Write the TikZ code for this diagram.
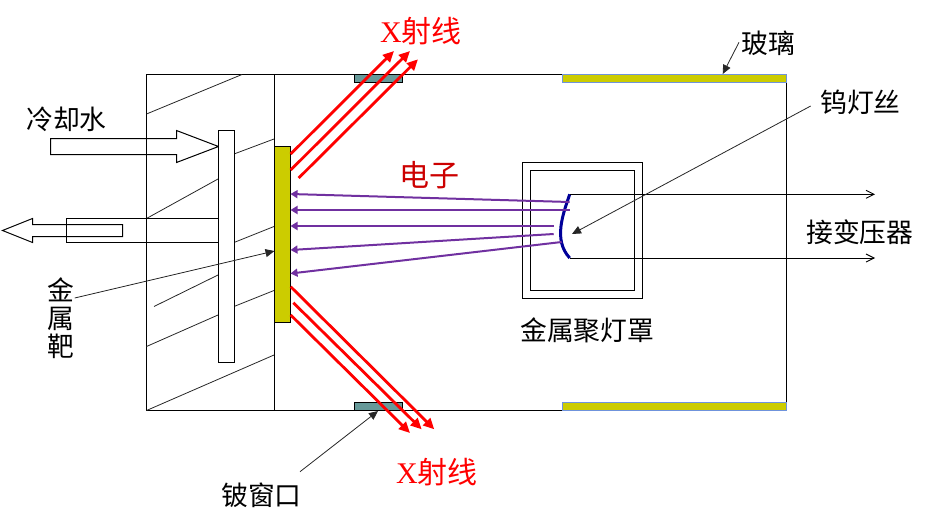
\documentclass[tikz,border=0pt]{standalone}
\usepackage{xcolor}
\usepackage{fontspec}
\setmainfont{Liberation Serif}
\newfontfamily\cjk{Noto Sans CJK SC}
\usetikzlibrary{arrows.meta, calc}
\definecolor{targetyellow}{HTML}{CCCC00}
\definecolor{windowteal}{HTML}{669999}
\definecolor{glassedge}{HTML}{6F93DC}
\definecolor{electronpurple}{HTML}{7030A0}
\definecolor{filamentblue}{HTML}{000099}
\definecolor{labelred}{HTML}{CC0000}
\tikzset{
  part/.style={draw=black, line width=1pt, inner sep=0pt, outer sep=0pt, anchor=north west},
  hatch/.style={draw=black!85, line width=0.8pt},
  wall/.style={draw=black, line width=1pt},
  pointer/.style={draw=black!85, line width=0.8pt, -{Triangle[length=9pt, width=8pt]}},
  xray/.style={draw=red, line width=2.8pt, -{Triangle[length=11pt, width=10pt]}},
  electron/.style={draw=electronpurple, line width=2pt, -{Triangle[length=7pt, width=8pt]}},
  wire/.style={draw=black, line width=0.9pt, -{Straight Barb[length=8pt, width=8pt]}},
  txt/.style={font=\cjk\fontsize{26.8}{28}\selectfont, inner sep=0pt},
  xtxt/.style={font=\fontsize{30}{32}\selectfont, text=red, inner sep=0pt}
}

\begin{document}
\begin{tikzpicture}[x=1pt, y=-1pt]
    \useasboundingbox (0,0) rectangle (931,514);

    % tube wall and the hatching of the anode block
    \draw[wall] (146.5,74.5) rectangle (786,410.5);
    \draw[wall] (274.5,74.5) -- (274.5,410.5);
    \draw[hatch] (146.5,114) -- (242,74.5);
    \draw[hatch] (234,154) -- (274,139);
    \draw[hatch] (146.5,218.5) -- (218,179);
    \draw[hatch] (234,242.5) -- (274,226.5);
    \draw[hatch] (154,306.5) -- (218,275);
    \draw[hatch] (146.5,346.5) -- (218,315);
    \draw[hatch] (234,306.5) -- (274,290.5);
    \draw[hatch] (146.5,410.5) -- (274,355);

    % cooling water
    \draw[wall] (50.5,138.5) -- (176.5,138.5) -- (176.5,130.5) -- (218.5,146.5)
      -- (176.5,162.5) -- (176.5,154.5) -- (50.5,154.5) -- cycle;
    \draw[wall] (218.5,218.5) -- (66.5,218.5) -- (66.5,242.5) -- (218.5,242.5);
    \draw[wall] (122.5,224.5) -- (32.5,224.5) -- (32.5,218.5) -- (2.5,230.5)
      -- (32.5,242.5) -- (32.5,236.5) -- (122.5,236.5) -- cycle;
    \node[part, fill=white, minimum width=16pt, minimum height=232pt] (pipe) at (218.5,130.5) {};

    % target, windows, glass
    \node[part, fill=targetyellow, minimum width=16pt, minimum height=176pt] (target) at (274.5,146.5) {};
    \node[part, fill=windowteal, minimum width=48pt, minimum height=8pt] (wintop) at (354.5,74.5) {};
    \node[part, fill=windowteal, minimum width=48pt, minimum height=8pt] (winbottom) at (354.5,402.5) {};
    \node[part, draw=glassedge, fill=targetyellow, minimum width=224pt, minimum height=8pt] (glasstop) at (562.5,74.5) {};
    \node[part, draw=glassedge, fill=targetyellow, minimum width=224pt, minimum height=8pt] (glassbottom) at (562.5,402.5) {};

    % focusing hood
    \node[part, minimum width=120pt, minimum height=136pt] (hood) at (522.5,162.5) {};
    \node[part, minimum width=104pt, minimum height=120pt] (hoodin) at (530.5,170.5) {};

    % filament
    \coordinate (filtop) at (569.7,194.3);
    \coordinate (filbottom) at (569.7,258);
    \draw[filamentblue, line width=3pt] (filtop) .. controls (563,214) and (553,240) .. (filbottom);
    \coordinate (wireA) at (875,194.3);
    \coordinate (wireB) at (875,258);
    \draw[wire] (filtop) -- (wireA);
    \draw[wire] (filbottom) -- (wireB);

    % electrons
    \foreach \name/\tailx/\taily/\heady in {a/569.7/202/194, b/569.7/210/210, c/553.7/226/226, d/553.7/234/250, e/561.7/242/273.5}{
      \coordinate (etail\name) at (\tailx,\taily);
      \draw[electron] (etail\name) -- (target.east |- 0,\heady);
    }

    % x-rays
    \foreach \name/\ax/\ay/\bx/\by in {a/290.7/154/394/51, b/290.7/170/410/51, c/298.7/178/418/59.3,
                                       d/290.7/286.7/434.3/429.3, e/293.3/302.7/421.7/429.3, f/290.7/315/410/433}{
      \coordinate (raystart\name) at (\ax,\ay);
      \coordinate (rayend\name) at (\bx,\by);
      \draw[xray] (raystart\name) -- (rayend\name);
    }

    % labels
    \node[xtxt, anchor=west] (xtop) at (380,31) {X{\cjk 射线}};
    \node[xtxt, anchor=west] (xbottom) at (396,472) {X{\cjk 射线}};
    \node[xtxt, text=labelred, anchor=west] (dianzi) at (399,175) {{\cjk 电子}};
    \node[txt, anchor=west] (coolant) at (26,119) {冷却水};
    \node[txt, align=center] (metal) at (61,318) {金\\属\\靶};
    \node[txt, anchor=west] (glasslabel) at (741,43) {玻璃};
    \node[txt, anchor=west] (tungsten) at (820,102) {钨灯丝};
    \node[txt, anchor=west] (transformer) at (806,232) {接变压器};
    \node[txt, anchor=west] (hoodlabel) at (520,330) {金属聚灯罩};
    \node[txt, anchor=west] (berylabel) at (221,495) {铍窗口};

    % pointers
    \coordinate (metalfrom) at (74.7,298);
    \coordinate (metalto) at (274.5,251);
    \coordinate (glassfrom) at (739,42.3);
    \coordinate (glassto) at (722.7,74);
    \coordinate (tungfrom) at (810.7,106);
    \coordinate (tungto) at (572,234);
    \coordinate (berylfrom) at (300,471.7);
    \coordinate (berylto) at (378,411);
    \draw[pointer] (metalfrom) -- (metalto);
    \draw[pointer] (glassfrom) -- (glassto);
    \draw[pointer] (tungfrom) -- (tungto);
    \draw[pointer] (berylfrom) -- (berylto);
  \end{tikzpicture}
\end{document}
